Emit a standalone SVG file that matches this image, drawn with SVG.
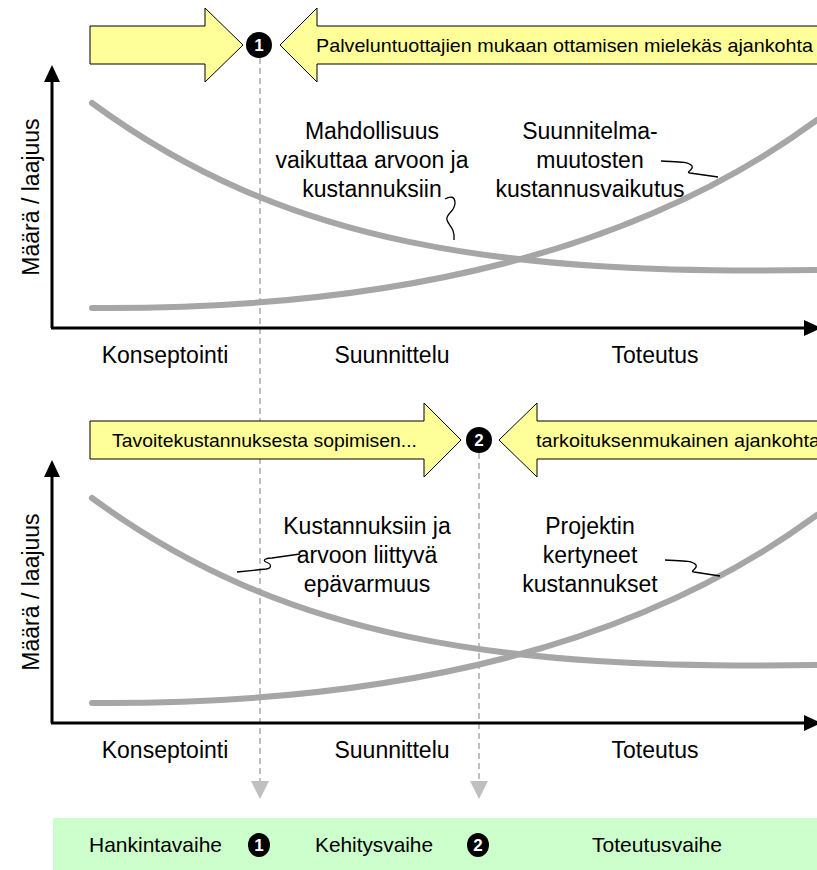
<svg xmlns="http://www.w3.org/2000/svg" width="817" height="870" viewBox="0 0 817 870">
<defs>
<style>
.ax{stroke:#000;stroke-width:3;fill:none}
.axh{fill:#000}
.cv{stroke:#a6a6a6;stroke-width:6;fill:none;stroke-linecap:round}
.dash{stroke:#bfbfbf;stroke-width:2;stroke-dasharray:6,4;fill:none}
.dh{fill:#bfbfbf}
.call{fill:#ffff99;stroke:#000;stroke-width:1}
.ct{font-family:"Liberation Sans",Arial,sans-serif;font-size:19px;fill:#000}
.lbl{font-family:"Liberation Sans",Arial,sans-serif;font-size:23px;fill:#000;text-anchor:middle}
.sq{stroke:#000;stroke-width:1.3;fill:none}
.num{font-family:"Liberation Sans",Arial,sans-serif;font-size:17px;font-weight:bold;fill:#fff;text-anchor:middle}
.bt{font-family:"Liberation Sans",Arial,sans-serif;font-size:21px;fill:#000}
</style>
</defs>
<rect width="817" height="870" fill="#fff"/>

<g id="connectors">
<line class="dash" x1="260" y1="58" x2="260" y2="784"/>
<polygon class="dh" points="251,781 269,781 260,799"/>
<line class="dash" x1="479" y1="453" x2="479" y2="784"/>
<polygon class="dh" points="470,781 488,781 479,799"/>
</g>

<g id="chart1">
<line class="ax" x1="52" y1="75" x2="52" y2="328"/>
<polygon class="axh" points="44,82 52,65 60,82"/>
<line class="ax" x1="51" y1="328" x2="808" y2="328"/>
<polygon class="axh" points="804,320 821,328 804,336"/>
<path class="cv" d="M92,103 C285,245 500,275 817,270"/>
<path class="cv" d="M92,308 C400,310 640,250 817,120"/>
<text class="lbl" transform="translate(39,197) rotate(-90)">Määrä / laajuus</text>
<text class="lbl" x="165" y="363">Konseptointi</text>
<text class="lbl" x="392" y="363">Suunnittelu</text>
<text class="lbl" x="655" y="363">Toteutus</text>
<g id="label-mahdollisuus">
<text class="lbl" x="372" y="139">Mahdollisuus</text>
<text class="lbl" x="372" y="168">vaikuttaa arvoon ja</text>
<text class="lbl" x="372" y="197">kustannuksiin</text>
<path class="sq" d="M445,199 C450,196 455,196 455,203 C455,212 445,214 447,220 C449,226 455,228 454,240"/>
</g>
<g id="label-suunnitelma">
<text class="lbl" x="590" y="139">Suunnitelma-</text>
<text class="lbl" x="590" y="168">muutosten</text>
<text class="lbl" x="590" y="197">kustannusvaikutus</text>
<path class="sq" d="M661,161 C675,162 688,161 692,166 C694,170 685,172 690,173 L718,177"/>
</g>
</g>

<g id="chart2">
<line class="ax" x1="52" y1="470" x2="52" y2="723"/>
<polygon class="axh" points="44,477 52,460 60,477"/>
<line class="ax" x1="51" y1="723" x2="808" y2="723"/>
<polygon class="axh" points="804,715 821,723 804,731"/>
<path class="cv" d="M92,498 C285,640 500,670 817,665"/>
<path class="cv" d="M92,703 C400,705 640,645 817,515"/>
<text class="lbl" transform="translate(39,592) rotate(-90)">Määrä / laajuus</text>
<text class="lbl" x="165" y="758">Konseptointi</text>
<text class="lbl" x="392" y="758">Suunnittelu</text>
<text class="lbl" x="655" y="758">Toteutus</text>
<g id="label-epavarmuus">
<text class="lbl" x="367" y="534">Kustannuksiin ja</text>
<text class="lbl" x="367" y="563">arvoon liittyvä</text>
<text class="lbl" x="367" y="592">epävarmuus</text>
<path class="sq" d="M237,572 L266,569 C272,568 272,564 266,562 C262,560 266,558 272,558 L300,554"/>
</g>
<g id="label-kustannukset">
<text class="lbl" x="590" y="534">Projektin</text>
<text class="lbl" x="590" y="563">kertyneet</text>
<text class="lbl" x="590" y="592">kustannukset</text>
<path class="sq" d="M665,560 C679,561 692,560 696,565 C698,569 689,571 694,572 L720,576"/>
</g>
</g>

<g id="arrow-1-left">
<polygon class="call" points="90,26 205,26 205,8 243,45 205,82 205,64 90,64"/>
</g>
<g id="marker-1">
<circle cx="259" cy="45" r="13" fill="#000"/>
<text class="num" x="259" y="51">1</text>
</g>
<g id="arrow-1-right">
<polygon class="call" points="818,26 317,26 317,8 280,45 317,82 317,64 818,64"/>
<text class="ct" x="316" y="52" textLength="497" lengthAdjust="spacingAndGlyphs">Palveluntuottajien mukaan ottamisen mielekäs ajankohta</text>
</g>

<g id="arrow-2-left">
<polygon class="call" points="90,421 424,421 424,403 461,440 424,477 424,459 90,459"/>
<text class="ct" x="112" y="447" textLength="305" lengthAdjust="spacingAndGlyphs">Tavoitekustannuksesta sopimisen...</text>
</g>
<g id="marker-2">
<circle cx="479" cy="440" r="13" fill="#000"/>
<text class="num" x="479" y="446">2</text>
</g>
<g id="arrow-2-right">
<polygon class="call" points="818,421 537,421 537,403 499,440 537,477 537,459 818,459"/>
<text class="ct" x="536" y="447" textLength="284" lengthAdjust="spacingAndGlyphs">tarkoituksenmukainen ajankohta</text>
</g>

<g id="phase-bar">
<rect x="53" y="818" width="765" height="52" fill="#ccffcc"/>
<text class="bt" x="89" y="852" textLength="133" lengthAdjust="spacingAndGlyphs">Hankintavaihe</text>
<ellipse cx="259" cy="845" rx="11" ry="12" fill="#000"/>
<text class="num" x="259" y="851">1</text>
<text class="bt" x="315" y="852" textLength="118" lengthAdjust="spacingAndGlyphs">Kehitysvaihe</text>
<ellipse cx="478" cy="845" rx="11" ry="12" fill="#000"/>
<text class="num" x="478" y="851">2</text>
<text class="bt" x="592" y="852" textLength="130" lengthAdjust="spacingAndGlyphs">Toteutusvaihe</text>
</g>
</svg>
